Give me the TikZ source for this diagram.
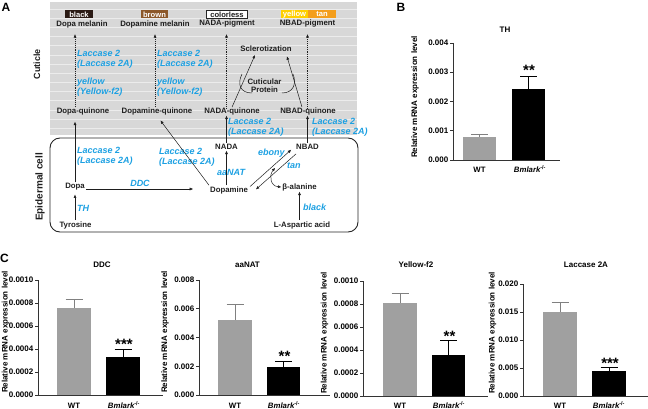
\documentclass[tikz,border=0pt]{standalone}
\usepackage{fontspec}
\setmainfont{Liberation Sans}
\usetikzlibrary{arrows.meta,calc}
\definecolor{enzc}{RGB}{28,160,226}
\definecolor{cutbg}{RGB}{216,216,216}
\definecolor{cutln}{RGB}{236,236,236}
\definecolor{pblk}{RGB}{42,26,20}
\definecolor{pbrn}{RGB}{140,88,42}
\definecolor{pyel}{RGB}{255,208,0}
\definecolor{ptan}{RGB}{244,158,28}
\definecolor{barg}{RGB}{160,160,160}
\definecolor{txt}{RGB}{30,30,30}
\tikzset{
 lbl/.style={inner sep=1pt, text=txt, font=\bfseries\fontsize{7.8}{8.5}\selectfont},
 enz/.style={inner sep=0pt, anchor=west, align=left, text=enzc, font=\bfseries\itshape\fontsize{9}{9.6}\selectfont},
 pigbox/.style={inner sep=0pt, minimum height=8pt, text=white, font=\bfseries\fontsize{7.6}{7.6}\selectfont},
 arr/.style={draw=txt, line width=0.5pt, -{Triangle[length=3.2pt,width=2.6pt]}},
 dotarr/.style={arr, dash pattern=on 0.6pt off 1.3pt},
 ax/.style={draw=black!80, line width=0.7pt},
 tk/.style={anchor=east, inner sep=0pt, font=\bfseries\fontsize{8}{8}\selectfont},
 ylab/.style={rotate=90, inner sep=0pt, font=\bfseries\fontsize{8}{8}\selectfont},
 ttl/.style={inner sep=0pt, font=\bfseries\fontsize{8}{8}\selectfont},
 xl/.style={inner sep=0pt, anchor=base, font=\bfseries\fontsize{7.8}{8}\selectfont},
 star/.style={inner sep=0pt, anchor=base, font=\bfseries\fontsize{15}{15}\selectfont},
 panel/.style={inner sep=0pt, font=\bfseries\fontsize{12}{12}\selectfont},
 errg/.style={draw=black!50, line width=0.7pt},
 errk/.style={draw=black, line width=0.7pt},
 sidelab/.style={rotate=90, inner sep=0pt, text=txt},
 tipboth/.style={draw=txt, line width=0.5pt, {Triangle[length=3.2pt,width=2.6pt]}-{Triangle[length=3.2pt,width=2.6pt]}},
}
\newcommand{\bmko}{{\itshape Bmlark}\textsuperscript{-/-}}
\begin{document}
\begin{tikzpicture}[x=1pt,y=-1pt]
\useasboundingbox (0,0) rectangle (648,409);

% ---------------- Panel A ----------------
\node[panel] (pa) at (6,7) {A};
\fill[cutbg] (50,2) rectangle (357,135);
\foreach \k in {0,...,13} \draw[cutln, line width=0.8pt] (50,{9.3+9.15*\k}) -- (357,{9.3+9.15*\k});
\draw[black!85, line width=0.9pt, rounded corners=10pt] (50,138) rectangle (358,232);

\node[sidelab, font=\bfseries\fontsize{9}{9}\selectfont] (cut) at (37,64) {Cuticle};
\node[sidelab, font=\bfseries\fontsize{10}{10}\selectfont] (epi) at (40,187) {Epidermal cell};

% pigment boxes
\node[pigbox, fill=pblk, minimum width=28pt] (pblack) at (79,14.5) {black};
\node[pigbox, fill=pbrn, minimum width=27pt] (pbrown) at (154.5,14.5) {brown};
\node[pigbox, fill=white, draw=black!85, line width=0.6pt, text=txt, minimum width=41pt] (pcol) at (227,14.5) {colorless};
\node[pigbox, fill=pyel, minimum width=27pt] (pyellow) at (294.5,14.5) {yellow};
\node[pigbox, fill=ptan, minimum width=28pt] (ptanb) at (322,14.5) {tan};

\node[lbl] (dmel) at (82,24) {Dopa melanin};
\node[lbl] (dpmel) at (155,24) {Dopamine melanin};
\node[lbl] (nadap) at (227,24) {NADA-pigment};
\node[lbl] (nbadp) at (307.5,24) {NBAD-pigment};

\node[lbl] (dq) at (83,111) {Dopa-quinone};
\node[lbl] (dpq) at (157,111) {Dopamine-quinone};
\node[lbl] (naq) at (232,111) {NADA-quinone};
\node[lbl] (nbq) at (308,111) {NBAD-quinone};
\node[lbl] (scl) at (266,49) {Sclerotization};
\node[lbl, align=center, font=\bfseries\fontsize{7.8}{8}\selectfont] (cp) at (264.5,86) {Cuticular\\Protein};

\node[enz] (lac1) at (77,59) {Laccase 2\\(Laccase 2A)};
\node[enz] (yel1) at (77,87) {yellow\\(Yellow-f2)};
\node[enz] (lac2) at (157,59) {Laccase 2\\(Laccase 2A)};
\node[enz] (yel2) at (157,87) {yellow\\(Yellow-f2)};
\node[enz] (lac3) at (228,127) {Laccase 2\\(Laccase 2A)};
\node[enz] (lac4) at (312,127) {Laccase 2\\(Laccase 2A)};

% epidermal cell
\node[lbl] (dopa) at (75,187) {Dopa};
\node[lbl] (dpm) at (229,190) {Dopamine};
\node[lbl] (tyr) at (75.5,225) {Tyrosine};
\node[lbl] (nada) at (226.5,147) {NADA};
\node[lbl] (nbad) at (307.5,147) {NBAD};
\node[lbl] (bala) at (299.5,187) {β-alanine};
\node[lbl] (lasp) at (302,225) {L-Aspartic acid};

\node[enz] (lac5) at (77,156) {Laccase 2\\(Laccase 2A)};
\node[enz] (lac6) at (159,157) {Laccase 2\\(Laccase 2A)};
\node[enz, anchor=center] (ddc) at (140,183) {DDC};
\node[enz] (th) at (77,208) {TH};
\node[enz] (aanat) at (217,172.5) {aaNAT};
\node[enz] (ebony) at (258,153.5) {ebony};
\node[enz] (tan) at (287,166) {tan};
\node[enz] (blk) at (303,207) {black};

% dotted arrows to pigments
\draw[dotarr] (dq.north -| dopa) -- ([yshift=-5.5pt]dmel.south -| dopa);
\draw[dotarr] (dpq.north -| dpmel) -- ([yshift=-5.5pt]dpmel.south);
\draw[dotarr] ([yshift=-2pt]naq.north -| nada) -- ([yshift=-5.5pt]nadap.south -| nada);
\draw[dotarr] ([yshift=-2pt]nbq.north -| nbadp) -- ([yshift=-5.5pt]nbadp.south);

% solid arrows
\draw[arr] (tyr.north -| dopa) -- ([yshift=-3pt]dopa.south);
\draw[arr] (dopa.north) -- ([yshift=-6pt]dq.south -| dopa);
\draw[arr] ([yshift=-2pt]dopa.east) -- ([xshift=-16pt,yshift=1pt]dpm.west);
\draw[arr, shorten >=6pt] (dpm.north west) -- (dpq.south);
\draw[arr] (dpm.north -| nada) -- (nada.south);
\draw[arr] (nada.north) -- (naq.south -| nada);
\draw[arr] (nbad.north) -- (nbq.south -| nbad);
\draw[arr] ($(dpm.east)+(1,-3.5)$) -- ($(nbad.south west)+(-4,-1)$);
\draw[arr] ($(nbad.south west)+(1,3)$) -- ($(dpm.east)+(7,-0.7)$);
\coordinate (bj) at (275,168);
\draw[tipboth] (bj) .. controls (269,175) and (270,186) .. (bala.west);
\draw[arr] (lasp.north -| bala) -- (bala.south);
\draw[arr] ($(naq.north)+(0,1)$) -- ($(scl.south)+(-11,2)$);
\draw[arr] ($(nbq.north)+(-6,1)$) -- ($(scl.south)+(21,3.5)$);
\draw[txt, line width=0.5pt] (242,74) .. controls (237,84) and (240,93) .. (252,93);
\draw[txt, line width=0.5pt] (293,74) .. controls (297,84) and (293,93) .. (282,93);

% ---------------- Panel B ----------------
\node[panel] (pb) at (401,7) {B};
\node[ttl] (tth) at (505,30) {TH};
\node[ylab] (ylb) at (415,97) {Relative mRNA expression level};
\fill[barg] (463,160) rectangle (496,136.6);
\draw[errg] (479.5,136.6) -- (479.5,134.3) (471,134.3) -- (488,134.3);
\fill[black] (512,160) rectangle (545,89.2);
\draw[errk] (528.5,89.2) -- (528.5,76.1) (520,76.1) -- (537,76.1);
\draw[ax] (453,43) -- (453,160) -- (560,160);
\foreach \v/\y in {0.000/160,0.001/130.75,0.002/101.5,0.003/72.25,0.004/43}
 {\draw[ax] (450,\y) -- (453,\y); \node[tk] at (448.5,\y) {\v};}
\node[star] (sb) at (529,76) {**};
\node[xl] (wtb) at (479.5,172.8) {WT};
\node[xl] (kob) at (530,172.8) {\bmko};

% ---------------- Panel C ----------------
\node[panel] (pc) at (4.5,258) {C};
% DDC
\node[ttl] (t1) at (102,265) {DDC};
\node[ylab] (y1) at (5.5,332) {Relative mRNA expression level};
\fill[barg] (57,395) rectangle (91,307.5);
\draw[errg] (74,307.5) -- (74,299.3) (65.5,299.3) -- (82.5,299.3);
\fill[black] (106,395) rectangle (140,356.7);
\draw[errk] (123,356.7) -- (123,349) (114.5,349) -- (131.5,349);
\draw[ax] (38,280) -- (38,395) -- (163,395);
\foreach \v/\y in {0.0000/395,0.0002/372,0.0004/349,0.0006/326,0.0008/303,0.0010/280}
 {\draw[ax] (35,\y) -- (38,\y); \node[tk] at (33.5,\y) {\v};}
\node[star] (s1) at (124,349.5) {***};
\node[xl] (w1) at (74,408) {WT};
\node[xl] (k1) at (124,408) {\bmko};
% aaNAT
\node[ttl] (t2) at (247.5,265) {aaNAT};
\node[ylab] (y2) at (165,332) {Relative mRNA expression level};
\fill[barg] (218,395) rectangle (252,320);
\draw[errg] (235,320) -- (235,304) (226.5,304) -- (243.5,304);
\fill[black] (267,395) rectangle (300,367);
\draw[errk] (283.5,367) -- (283.5,361) (275,361) -- (292,361);
\draw[ax] (199,280) -- (199,395) -- (330,395);
\foreach \v/\y in {0.000/395,0.002/366.25,0.004/337.5,0.006/308.75,0.008/280}
 {\draw[ax] (196,\y) -- (199,\y); \node[tk] at (194.5,\y) {\v};}
\node[star] (s2) at (284.5,361) {**};
\node[xl] (w2) at (235,408) {WT};
\node[xl] (k2) at (284,408) {\bmko};
% Yellow-f2
\node[ttl] (t3) at (416,265) {Yellow-f2};
\node[ylab] (y3) at (324.5,333) {Relative mRNA expression level};
\fill[barg] (383,396) rectangle (417,303);
\draw[errg] (400,303) -- (400,293) (391.5,293) -- (408.5,293);
\fill[black] (432,396) rectangle (465,355);
\draw[errk] (448.5,355) -- (448.5,340) (440,340) -- (457,340);
\draw[ax] (363,281) -- (363,396) -- (488,396);
\foreach \v/\y in {0.0000/396,0.0002/373,0.0004/350,0.0006/327,0.0008/304,0.0010/281}
 {\draw[ax] (360,\y) -- (363,\y); \node[tk] at (358.5,\y) {\v};}
\node[star] (s3) at (449.5,341) {**};
\node[xl] (w3) at (400,408) {WT};
\node[xl] (k3) at (449,408) {\bmko};
% Laccase 2A
\node[ttl] (t4) at (586,265) {Laccase 2A};
\node[ylab] (y4) at (492.5,333) {Relative mRNA expression level};
\fill[barg] (543,396) rectangle (577,312);
\draw[errg] (560,312) -- (560,302) (551.5,302) -- (568.5,302);
\fill[black] (592,396) rectangle (626,371);
\draw[errk] (609,371) -- (609,367) (600.5,367) -- (617.5,367);
\draw[ax] (523,284) -- (523,396) -- (648,396);
\foreach \v/\y in {0.000/396,0.005/368,0.010/340,0.015/312,0.020/284}
 {\draw[ax] (520,\y) -- (523,\y); \node[tk] at (518.5,\y) {\v};}
\node[star] (s4) at (610,368) {***};
\node[xl] (w4) at (560,408) {WT};
\node[xl] (k4) at (609,408) {\bmko};
\end{tikzpicture}
\end{document}
